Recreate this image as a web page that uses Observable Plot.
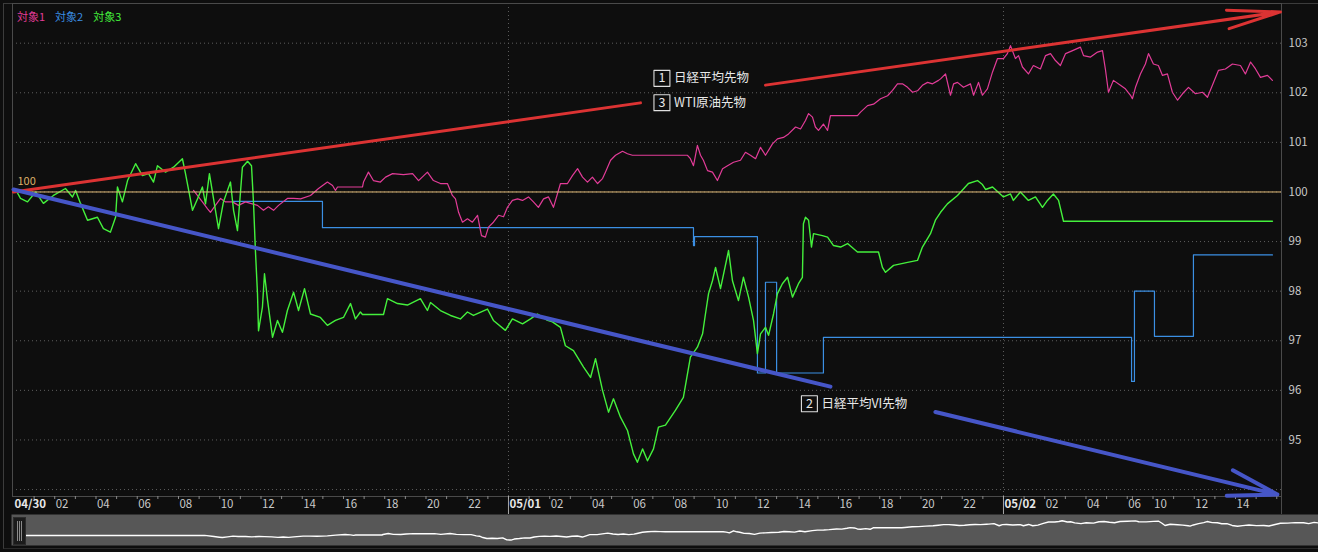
<!DOCTYPE html>
<html>
<head>
<meta charset="utf-8">
<script src="https://cdn.jsdelivr.net/npm/d3@7"></script>
<script src="https://cdn.jsdelivr.net/npm/@observablehq/plot@0.6"></script>
<style>
html, body { margin: 0; padding: 0; background: #0e0e0e; }
#wrap { position: relative; width: 1318px; height: 552px; overflow: hidden; background: #0e0e0e;
  font-family: "Noto Sans CJK JP", "Noto Sans", sans-serif; }
#main, #nav { position: absolute; left: 0; }
#main { top: 0; }
#nav { top: 514px; }
#legend { position: absolute; left: 17px; top: 8px; font-size: 11px; line-height: 16px; white-space: nowrap; }
#legend span { margin-right: 10px; }
#outer { position: absolute; left: 3px; top: 3px; width: 1320px; height: 544px;
  border-left: 1px solid #3c3c3c; border-top: 1px solid #3c3c3c; border-bottom: 1px solid #2a2a2a; pointer-events: none; }
#handle { position: absolute; left: 13px; top: 517px; width: 11px; height: 26px; background: #1b1b1b;
  border: 1px solid #2c2c2c; }
#handle i { position: absolute; top: 3px; width: 1px; height: 20px; background: #8a8a8a; }
</style>
</head>
<body>
<div id="wrap">
  <div id="outer"></div>
  <div id="main"></div>
  <div id="nav"></div>
  <div id="handle"><i style="left:3px"></i><i style="left:5px"></i><i style="left:7px"></i></div>
  <div id="legend"></div>
</div>
<script>
// ---------- data (x = hours on the chart's time axis, 0 = 04/30 00:00; 05/02 06:00–08:45 break removed) ----------
const seriesNames  = ["対象1", "対象2", "対象3"];
const seriesLabels = ["日経平均先物", "日経平均VI先物", "WTI原油先物"];

// 対象1 日経平均先物 (flat at the base level before its first trade)
const nikkeiSeries = [
[8.73,100.03],[9.16,99.80],[9.41,99.66],[9.55,99.59],[9.79,99.73],[10.04,99.87],[10.28,99.80],[10.62,99.80],[10.91,99.73],
[11.25,99.80],[11.49,99.77],[11.83,99.73],[12.12,99.63],[12.36,99.70],[12.61,99.63],[12.85,99.73],[13.28,99.87],[13.58,99.87],[13.92,99.86],
[14.40,99.93],[14.79,100.07],[15.22,100.20],[15.47,100.13],[15.61,100.03],[15.71,100.10],[16.92,100.10],[16.97,100.20],[17.21,100.40],[17.45,100.23],
[17.79,100.20],[18.04,100.30],[18.38,100.37],[18.91,100.35],[19.35,100.37],[19.64,100.23],[20.07,100.40],[20.36,100.23],[20.70,100.17],[21.04,100.17],
[21.28,99.93],[21.43,99.86],[21.58,99.59],[21.77,99.39],[22.01,99.46],[22.25,99.39],[22.50,99.53],[22.69,99.12],[22.88,99.09],[23.03,99.29],
[23.27,99.39],[23.52,99.53],[23.76,99.50],[23.95,99.69],[24.19,99.83],[24.44,99.86],[24.68,99.83],[24.97,99.90],[25.21,99.80],[25.45,99.69],
[25.70,99.86],[25.94,99.90],[26.18,99.69],[26.52,100.17],[26.86,100.17],[27.10,100.33],[27.35,100.47],[27.59,100.30],[27.83,100.20],[28.07,100.30],
[28.32,100.17],[28.56,100.27],[28.70,100.40],[28.95,100.64],[29.19,100.74],[29.53,100.82],[29.77,100.77],[30.01,100.74],[32.68,100.74],[32.82,100.67],
[32.97,100.53],[33.16,100.94],[33.31,100.74],[33.45,100.64],[33.65,100.43],[33.89,100.40],[34.13,100.23],[34.38,100.47],[34.62,100.53],[34.91,100.60],
[35.25,100.64],[35.49,100.80],[35.73,100.74],[35.98,100.67],[36.22,100.90],[36.46,100.74],[36.80,100.97],[37.04,101.07],[37.33,101.10],[37.58,101.17],
[37.92,101.31],[38.16,101.27],[38.40,101.44],[38.55,101.58],[38.74,101.51],[38.88,101.31],[39.03,101.24],[39.27,101.37],[39.47,101.24],[39.61,101.54],
[40.92,101.54],[41.07,101.61],[41.41,101.74],[41.70,101.77],[42.04,101.88],[42.38,101.94],[42.62,102.05],[42.86,102.18],[43.10,102.18],[43.35,102.11],
[43.59,102.01],[43.83,102.04],[44.07,102.15],[44.32,102.21],[44.56,102.18],[44.85,102.25],[44.95,102.28],[45.19,102.38],[45.43,101.95],[45.58,102.18],
[45.77,102.21],[46.06,102.11],[46.40,102.18],[46.55,101.95],[46.79,102.21],[46.98,101.95],[47.22,102.08],[47.47,102.42],[47.71,102.69],[48.00,102.69],
[48.19,102.79],[48.34,102.95],[48.58,102.69],[48.73,102.75],[48.92,102.52],[49.21,102.38],[49.45,102.55],[49.79,102.48],[50.04,102.75],[50.28,102.79],
[50.52,102.65],[50.76,102.55],[51.01,102.79],[51.35,102.85],[51.73,102.92],[51.88,102.75],[52.22,102.72],[52.56,102.82],[52.80,102.85],[52.95,102.45],
[53.09,102.01],[53.33,102.25],[53.67,102.15],[53.91,102.08],[54.16,101.95],[54.25,101.88],[54.40,102.11],[54.64,102.38],[54.88,102.58],[55.03,102.79],
[55.27,102.58],[55.51,102.55],[55.71,102.35],[55.95,102.38],[56.19,102.01],[56.44,101.85],[56.68,101.98],[56.97,102.11],[57.31,101.98],[57.65,102.01],
[57.89,101.91],[58.13,102.15],[58.42,102.45],[58.76,102.48],[59.10,102.58],[59.49,102.55],[59.73,102.38],[59.98,102.62],[60.22,102.48],[60.46,102.31],
[60.80,102.35],[61.04,102.25]
];

// 対象2 日経平均VI先物 (stepped)
const viSeries = [
[10.62,99.81],[14.98,99.28],[32.97,98.92],[33.02,99.10],[36.07,96.35],[36.46,98.18],[37.00,96.35],[39.27,97.07],
[54.21,96.18],[54.35,98.00],[55.32,97.09],[57.21,98.73],[61.04,98.73]
];

// 対象3 WTI原油先物
const wtiHours = [
0,0.10,0.34,0.68,1.07,1.45,1.94,2.52,2.86,3.01,
3.25,3.59,4.07,4.36,4.70,4.95,5.04,5.28,5.53,5.92,
6.25,6.55,6.79,6.98,7.37,7.76,8.19,8.34,8.68,8.92,
9.16,9.31,9.50,9.70,9.94,10.18,10.52,10.67,10.86,11.10,
11.35,11.54,11.64,11.73,11.83,11.88,12.07,12.17,12.32,12.56,
12.80,13.04,13.28,13.58,13.82,14.11,14.40,14.88,15.22,15.61,
16.00,16.34,16.58,16.82,16.92,17.94,18.13,18.62,19.10,19.73,
20.07,20.22,20.70,21.19,21.67,22.01,22.30,22.98,23.27,23.85,
24.19,24.68,25.07,25.41,25.89,26.13,26.52,26.76,27.15,27.64,
27.98,28.22,28.56,28.85,29.09,29.43,29.77,30.06,30.25,30.50,
30.74,31.03,31.27,31.61,32.10,32.48,32.82,33.16,33.41,33.55,
33.70,33.89,34.04,34.28,34.67,34.86,35.15,35.39,35.64,35.88,
36.07,36.22,36.46,36.61,36.85,37.04,37.28,37.53,37.77,38.06,
38.25,38.30,38.40,38.55,38.69,38.79,39.22,39.47,39.76,40.10,
40.44,40.92,41.94,42.13,42.28,42.67,43.35,43.83,44.07,44.46,
44.70,44.95,45.28,45.77,46.30,46.74,46.98,47.13,47.47,48.00,
48.34,48.48,48.82,49.21,49.55,49.89,50.13,50.42,50.67,50.91,
61.04
];
const wtiValues = [
100.00,100.05,99.87,99.80,100.00,99.77,99.93,100.07,99.90,100.03,
99.77,99.43,99.49,99.26,99.19,99.49,100.10,99.80,100.23,100.57,
100.33,100.37,100.20,100.53,100.40,100.50,100.67,100.37,99.63,99.86,
100.10,99.76,100.37,99.86,99.26,99.80,100.20,99.63,99.22,100.50,
100.62,100.53,99.76,98.82,97.95,97.20,97.68,98.35,97.81,97.07,
97.41,97.17,97.61,97.98,97.61,98.05,97.54,97.47,97.31,97.41,
97.47,97.75,97.44,97.58,97.53,97.53,97.85,97.75,97.72,97.85,
97.61,97.77,97.61,97.51,97.44,97.58,97.51,97.64,97.41,97.21,
97.44,97.34,97.44,97.54,97.41,97.38,97.27,96.90,96.80,96.47,
96.26,96.64,96.00,95.56,95.83,95.46,95.19,94.72,94.55,94.82,
94.58,94.82,95.26,95.30,95.60,95.86,96.67,96.87,97.14,97.54,
97.95,98.21,98.48,98.05,98.82,98.21,97.81,98.28,97.88,97.41,
96.74,97.14,97.27,97.11,97.54,97.95,98.15,98.28,97.88,98.15,
98.28,99.36,99.49,99.43,98.89,99.16,99.12,99.09,98.92,98.89,
98.96,98.79,98.79,98.48,98.38,98.52,98.58,98.62,98.89,99.16,
99.43,99.59,99.76,99.93,100.17,100.23,100.15,100.05,100.10,99.90,
99.96,99.83,100.00,99.83,99.90,99.69,99.83,99.96,99.83,99.41,
99.41
];

// axis ticks
const yTicks = [95, 96, 97, 98, 99, 100, 101, 102, 103];
const yGrid  = [94, 95, 96, 97, 98, 99, 100, 101, 102, 103];
const baseLevel = 100;
const dayStarts = [0, 24, 48];
const dayLabels = ["04/30", "05/01", "05/02"];
const hourTickPos = [2,4,6,8,10,12,14,16,18,20,22, 26,28,30,32,34,36,38,40,42,44,46, 50,52,54,55.25,57.25,59.25];
const hourTickLabels = ["02","04","06","08","10","12","14","16","18","20","22","02","04","06","08","10","12","14","16","18","20","22","02","04","06","10","12","14"];
const minorTickPos = d3.range(1, 54.5, 1).concat(d3.range(54.25, 61.3, 1));

// annotations (label anchors in data units) and hand-drawn trend arrows
const annotations = [
  {num: "1", text: seriesLabels[0], h: 31.44, v: 102.29},
  {num: "3", text: seriesLabels[2], h: 31.44, v: 101.80},
  {num: "2", text: seriesLabels[1], h: 38.59, v: 95.73}
];
const trendUp   = {from: [0, 100.0],  to: [61.43, 103.63], gap: [30.4, 36.46]};
const trendDown = {from: [0, 100.05], to: [61.28, 93.90],  gap: [39.61, 44.70]};

// ---------- styling ----------
const FONT = '"Noto Sans CJK JP", "Noto Sans", sans-serif';
const PINK = "#e23c98", BLUE = "#3b8fe3", GREEN = "#44f03c", GOLD = "#e2bb78";
const RED = "#dc3333", INDIGO = "#4656c8";
const seriesColors = [PINK, BLUE, GREEN];

const nikkeiData = nikkeiSeries.map(([h, v]) => ({h, v}));
const navData = [{h: 0, v: baseLevel}].concat(nikkeiData);
const viData = viSeries.map(([h, v]) => ({h, v}));
const wtiData = wtiHours.map((h, i) => ({h, v: wtiValues[i]}));

function splitTrend(t) {
  const [h0, v0] = t.from, [h1, v1] = t.to;
  const at = h => v0 + (h - h0) * (v1 - v0) / (h1 - h0);
  return {
    left:  [{x1: h0, y1: v0, x2: t.gap[0], y2: at(t.gap[0])}],
    right: [{x1: t.gap[1], y1: at(t.gap[1]), x2: h1, y2: v1}]
  };
}
const up = splitTrend(trendUp), down = splitTrend(trendDown);

const labelMap = new Map(hourTickPos.map((p, i) => [p, hourTickLabels[i]]));
const dayMap = new Map(dayStarts.map((p, i) => [p, dayLabels[i]]));

const main = Plot.plot({
  width: 1318, height: 514,
  marginTop: 3, marginBottom: 18, marginLeft: 12, marginRight: 37,
  style: {background: "transparent", color: "#c8c8c8", fontFamily: FONT, fontSize: "11.5px", overflow: "visible"},
  x: {type: "linear", domain: [-0.048, 61.48]},
  y: {type: "linear", domain: [93.86, 103.80]},
  marks: [
    Plot.gridY(yGrid, {stroke: "#5e5e5e", strokeOpacity: 1, strokeDasharray: "1,3"}),
    Plot.gridX([24, 48], {stroke: "#5e5e5e", strokeOpacity: 1, strokeDasharray: "1,3"}),
    Plot.frame({stroke: "#4a4a4a"}),
    Plot.axisY(yTicks, {anchor: "right", tickSize: 0, tickPadding: 7, tickFormat: d => String(d),
      fill: "#c8c8c8", fontSize: 11.5}),
    Plot.axisX(minorTickPos, {anchor: "bottom", tickSize: 3, stroke: "#8a8a8a", tickFormat: () => ""}),
    Plot.axisX([24, 48], {anchor: "bottom", tickSize: 18, stroke: "#a8a8a8", tickFormat: () => ""}),
    Plot.axisX([61.48], {anchor: "bottom", tickSize: 18, stroke: "#4a4a4a", tickFormat: () => ""}),
    Plot.axisX(hourTickPos, {anchor: "bottom", tickSize: 0, tickPadding: 3, textAnchor: "start", dx: 1,
      tickFormat: d => labelMap.get(d), fill: "#c8c8c8", fontSize: 11.5}),
    Plot.axisX(dayStarts, {anchor: "bottom", tickSize: 0, tickPadding: 3, textAnchor: "start", dx: 1,
      tickFormat: d => dayMap.get(d), fill: "#e8e8e8", fontSize: 11.5, fontWeight: "bold"}),
    Plot.line(viData, {x: "h", y: "v", curve: "step-after", stroke: BLUE, strokeWidth: 1.2}),
    Plot.line(nikkeiData, {x: "h", y: "v", stroke: PINK, strokeWidth: 1.2}),
    Plot.line(wtiData, {x: "h", y: "v", stroke: GREEN, strokeWidth: 1.4}),
    Plot.ruleY([baseLevel], {stroke: GOLD, strokeWidth: 1}),
    Plot.text([baseLevel], {x: 0, y: d => d, text: d => String(d), textAnchor: "start", dx: 4, dy: -11,
      fill: "#dcae68", fontSize: 11}),
    Plot.link(up.left, {x1: "x1", y1: "y1", x2: "x2", y2: "y2", stroke: RED, strokeWidth: 3, strokeLinecap: "round"}),
    Plot.arrow(up.right, {x1: "x1", y1: "y1", x2: "x2", y2: "y2", stroke: RED, strokeWidth: 3,
      headLength: 27, headAngle: 20, strokeLinecap: "round"}),
    Plot.link(down.left, {x1: "x1", y1: "y1", x2: "x2", y2: "y2", stroke: INDIGO, strokeWidth: 4, strokeLinecap: "round"}),
    Plot.arrow(down.right, {x1: "x1", y1: "y1", x2: "x2", y2: "y2", stroke: INDIGO, strokeWidth: 4,
      headLength: 19, headAngle: 30, strokeLinecap: "round"}),
    Plot.dot(annotations, {x: "h", y: "v", symbol: "square", r: 9, stroke: "#e0e0e0", fill: "none",
      strokeWidth: 1.1, strokeLinejoin: "round"}),
    Plot.text(annotations, {x: "h", y: "v", text: "num", fill: "#e8e8e8", fontSize: 12.5}),
    Plot.text(annotations, {x: "h", y: "v", text: "text", textAnchor: "start", dx: 12, fill: "#e8e8e8", fontSize: 12.5})
  ]
});
document.getElementById("main").appendChild(main);

const nav = Plot.plot({
  width: 1318, height: 38,
  marginTop: 0, marginBottom: 7, marginLeft: 11, marginRight: 0,
  style: {background: "transparent"},
  x: {type: "linear", domain: [-0.19, 60.18], axis: null},
  y: {type: "linear", domain: [98, 104.2], axis: null},
  marks: [
    Plot.frame({fill: "#575757", stroke: null}),
    Plot.line(navData, {x: "h", y: "v", stroke: "#ffffff", strokeWidth: 1.4, clip: true})
  ]
});
document.getElementById("nav").appendChild(nav);

const legend = document.getElementById("legend");
seriesNames.forEach((n, i) => {
  const s = document.createElement("span");
  s.textContent = n;
  s.style.color = seriesColors[i];
  legend.appendChild(s);
});
</script>
</body>
</html>
